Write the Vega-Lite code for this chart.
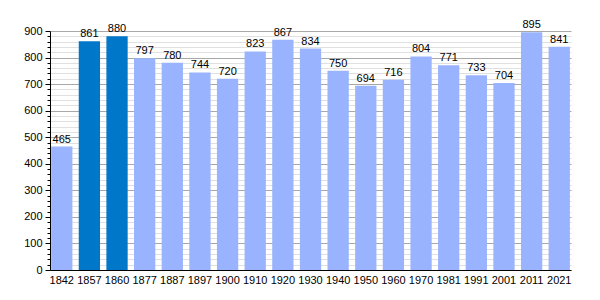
{
  "$schema": "https://vega.github.io/schema/vega-lite/v6.json",
  "width": 521,
  "height": 239,
  "autosize": "none",
  "padding": {"left": 50, "top": 31, "right": 29, "bottom": 30},
  "background": "white",
  "config": {
    "view": {"stroke": null},
    "font": "Liberation Sans",
    "axis": {"labelFont": "Liberation Sans", "labelFontSize": 11, "labelColor": "#000"}
  },
  "data": {"values": [
    {"year": "1842", "pop": 465, "hl": "n"},
    {"year": "1857", "pop": 861, "hl": "y"},
    {"year": "1860", "pop": 880, "hl": "y"},
    {"year": "1877", "pop": 797, "hl": "n"},
    {"year": "1887", "pop": 780, "hl": "n"},
    {"year": "1897", "pop": 744, "hl": "n"},
    {"year": "1900", "pop": 720, "hl": "n"},
    {"year": "1910", "pop": 823, "hl": "n"},
    {"year": "1920", "pop": 867, "hl": "n"},
    {"year": "1930", "pop": 834, "hl": "n"},
    {"year": "1940", "pop": 750, "hl": "n"},
    {"year": "1950", "pop": 694, "hl": "n"},
    {"year": "1960", "pop": 716, "hl": "n"},
    {"year": "1970", "pop": 804, "hl": "n"},
    {"year": "1981", "pop": 771, "hl": "n"},
    {"year": "1991", "pop": 733, "hl": "n"},
    {"year": "2001", "pop": 704, "hl": "n"},
    {"year": "2011", "pop": 895, "hl": "n"},
    {"year": "2021", "pop": 841, "hl": "n"}
  ]},
  "encoding": {
    "x": {"field": "year", "type": "ordinal", "sort": null,
      "scale": {"paddingInner": 0.23, "paddingOuter": 0.04},
      "axis": {"title": null, "labelAngle": 0, "ticks": false, "domainColor": "#000", "labelPadding": 4}}
  },
  "layer": [
    {
      "mark": {"type": "bar", "opacity": 0},
      "encoding": {
        "y": {"field": "pop", "type": "quantitative",
          "scale": {"domain": [0, 900], "nice": false},
          "axis": {"orient": "left", "title": null, "values": [20,40,60,80,120,140,160,180,220,240,260,280,320,340,360,380,420,440,460,480,520,540,560,580,620,640,660,680,720,740,760,780,820,840,860,880],
            "labels": false, "tickSize": 3, "tickColor": "#000", "domain": false, "gridColor": "#e0e0e0", "grid": true, "zindex": 0}}
      }
    },
    {
      "mark": {"type": "bar"},
      "encoding": {
        "y": {"field": "pop", "type": "quantitative",
          "scale": {"domain": [0, 900], "nice": false},
          "axis": {"orient": "left", "title": null, "values": [0,100,200,300,400,500,600,700,800,900],
            "tickSize": 5, "tickColor": "#000", "domainColor": "#000", "gridColor": "#a8a8a8", "grid": true, "labelPadding": 3, "zindex": 0}},
        "color": {"field": "hl", "type": "nominal", "scale": {"domain": ["n", "y"], "range": ["#99b3ff", "#0077c8"]}, "legend": null}
      }
    },
    {
      "mark": {"type": "text", "baseline": "bottom", "dy": -2, "fontSize": 11, "color": "#000"},
      "encoding": {
        "y": {"field": "pop", "type": "quantitative", "axis": null},
        "text": {"field": "pop", "type": "quantitative"}
      }
    }
  ],
  "resolve": {"axis": {"y": "independent"}}
}
